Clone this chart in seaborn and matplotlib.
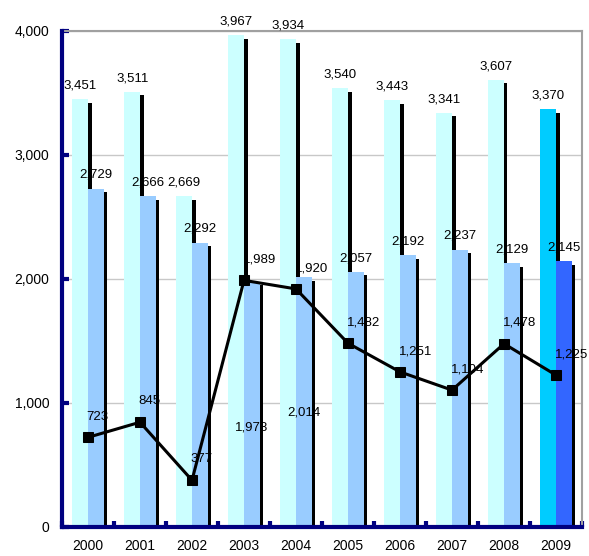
import numpy as np
import pandas as pd
import matplotlib
matplotlib.use('Agg')
import matplotlib.pyplot as plt
import seaborn as sns
from matplotlib.transforms import offset_copy

# datos
anios = ['2000', '2001', '2002', '2003', '2004', '2005', '2006', '2007', '2008', '2009']
serie_a = [3451, 3511, 2669, 3967, 3934, 3540, 3443, 3341, 3607, 3370]
serie_b = [2729, 2666, 2292, 1978, 2014, 2057, 2192, 2237, 2129, 2145]
serie_linea = [723, 845, 377, 1989, 1920, 1482, 1251, 1104, 1478, 1225]
ticks_y = [0, 1000, 2000, 3000, 4000]

# etiquetas de la serie b que en el original van abajo (centro de la etiqueta)
etiqueta_b_abajo = {3: 800, 4: 920}

sns.set_theme(style='white')
plt.rcParams['font.family'] = ['Liberation Sans', 'DejaVu Sans']

fig = plt.figure(figsize=(5.89, 5.56), dpi=100)
ax = fig.add_axes([62 / 589, 29 / 556, 520 / 589, 496 / 556])

df = pd.DataFrame({
    'anio': anios * 2,
    'valor': serie_a + serie_b,
    'serie': ['a'] * len(anios) + ['b'] * len(anios),
})

sns.barplot(data=df, x='anio', y='valor', hue='serie', palette=['#CCFFFF', '#99CCFF'],
            width=0.6, errorbar=None, legend=False, saturation=1, linewidth=0, ax=ax)

barras_a = ax.containers[0]
barras_b = ax.containers[1]
# el ultimo anio va resaltado
barras_a[-1].set_facecolor('#00CCFF')
barras_b[-1].set_facecolor('#3366FF')
for b in barras_a:
    b.set_zorder(2)
for b in barras_b:
    b.set_zorder(3)

ax.set_ylim(0, 4000)
ax.set_xlim(-0.5, len(anios) - 0.5)

# sombras negras de las barras
desp = 3.5
sombra = offset_copy(ax.transData, fig=fig, x=desp, y=-desp, units='dots')
p0 = ax.transData.transform((0, 0))
p1 = ax.transData.transform((1, 1))
px_x = p1[0] - p0[0]
px_y = p1[1] - p0[1]

for b in barras_b:
    ax.bar(b.get_x(), b.get_height(), width=b.get_width(), align='edge',
           color='black', linewidth=0, transform=sombra, zorder=2.5)

# la sombra de la serie a solo se ve por encima de la serie b
for ba, bb in zip(barras_a, barras_b):
    alto = ba.get_height() - desp / px_y - bb.get_height()
    ax.bar(ba.get_x() + ba.get_width(), alto, bottom=bb.get_height(), width=desp / px_x,
           align='edge', color='black', linewidth=0, zorder=4.5)

# linea
x_pos = np.arange(len(anios))
sns.lineplot(x=x_pos, y=serie_linea, color='black', marker='s', markersize=7,
             markeredgecolor='black', linewidth=2.2, zorder=5, ax=ax)

# etiquetas
for b, v in zip(barras_a, serie_a):
    ax.annotate(f'{v:,}', (b.get_x() + b.get_width() / 2, v), xytext=(0, 9.5),
                textcoords='offset points', ha='center', va='center', fontsize=9.5,
                color='black', zorder=4, annotation_clip=False)

for i, (b, v) in enumerate(zip(barras_b, serie_b)):
    xc = b.get_x() + b.get_width() / 2
    if i in etiqueta_b_abajo:
        ax.text(xc, etiqueta_b_abajo[i], f'{v:,}', ha='center', va='center',
                fontsize=9.5, color='black', zorder=4)
    else:
        ax.annotate(f'{v:,}', (xc, v), xytext=(0, 10), textcoords='offset points',
                    ha='center', va='center', fontsize=9.5, color='black', zorder=4)

for xp, v in zip(x_pos, serie_linea):
    ax.annotate(f'{v:,}', (xp, v), xytext=(-1, 15), textcoords='offset points',
                ha='left', va='center', fontsize=9.5, color='black', zorder=4)

# ejes
ax.set_xlabel('')
ax.set_ylabel('')
ax.set_yticks(ticks_y)
ax.set_yticklabels([f'{t:,}' for t in ticks_y])
ax.set_xticks(x_pos)
ax.set_xticklabels(anios)
ax.set_xticks(np.arange(len(anios) + 1) - 0.5, minor=True)

ax.tick_params(axis='y', direction='in', length=5, width=3, color='#000080',
               pad=9, labelsize=10, labelcolor='black', left=True)
ax.tick_params(axis='x', which='major', length=0, pad=9, labelsize=10, labelcolor='black')
ax.tick_params(axis='x', which='minor', direction='in', length=4, width=3,
               color='#000080', bottom=True)

ax.yaxis.grid(True, color='#C8C8C8', linewidth=1)
ax.set_axisbelow(True)

for lado in ['left', 'bottom']:
    ax.spines[lado].set_color('#000080')
    ax.spines[lado].set_linewidth(3)
    ax.spines[lado].set_zorder(6)
for lado in ['top', 'right']:
    ax.spines[lado].set_color('#A0A0A0')
    ax.spines[lado].set_linewidth(1.5)

fig.savefig('out.png', dpi=100)
